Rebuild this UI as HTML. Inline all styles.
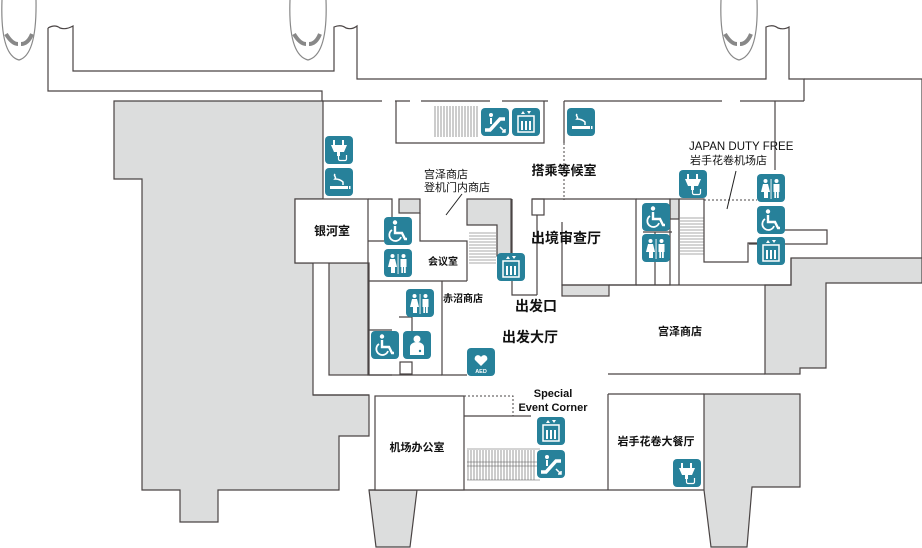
<!DOCTYPE html>
<html><head><meta charset="utf-8"><style>
html,body{margin:0;padding:0;background:#fff}
svg{display:block}
text{font-family:"Liberation Sans","Noto Sans CJK SC",sans-serif;fill:#111}
.b{font-weight:bold}
</style></head><body>
<svg width="922" height="548" viewBox="0 0 922 548" xmlns="http://www.w3.org/2000/svg">
<defs>
<g id="wc"><rect width="28" height="28" rx="4" fill="#27819a"/><circle cx="11" cy="5.5" r="2.2" fill="#fff"/><path d="M11 9v7h7l3 6h2" stroke="#fff" stroke-width="2.4" fill="none"/><path d="M8 13a6 6 0 1 0 9 7" stroke="#fff" stroke-width="1.8" fill="none"/></g>
<g id="toi"><rect width="28" height="28" rx="4" fill="#27819a"/><g fill="#fff"><circle cx="8.5" cy="7" r="2"/><path d="M6 10h5l2 8h-2v6h-4v-6h-3z"/><rect x="13.6" y="5" width="0.9" height="20"/><circle cx="19.5" cy="7" r="2"/><rect x="16.5" y="10" width="6" height="8"/><rect x="17.3" y="17" width="1.8" height="7"/><rect x="20" y="17" width="1.8" height="7"/></g></g>
<g id="ele"><rect width="28" height="28" rx="4" fill="#27819a"/><g fill="#fff"><rect x="6" y="8" width="16" height="16" fill="none" stroke="#fff" stroke-width="1.5"/><rect x="9" y="13" width="2" height="9"/><rect x="13" y="13" width="2" height="9"/><rect x="17" y="13" width="2" height="9"/><path d="M9 6l2-3 2 3zM15 3l2 3 2-3z"/></g></g>
<g id="esc"><rect width="28" height="28" rx="4" fill="#27819a"/><path d="M4 22h5l10-11h5" fill="none" stroke="#fff" stroke-width="3.5"/><circle cx="10" cy="7" r="2" fill="#fff"/><path d="M10 10v6" stroke="#fff" stroke-width="2"/><path d="M19 19l5 5M21 24h3v-3" stroke="#fff" stroke-width="1.5" fill="none"/></g>
<g id="plug"><rect width="28" height="28" rx="4" fill="#27819a"/><g fill="#fff"><rect x="8" y="4" width="2" height="5"/><rect x="17" y="4" width="2" height="5"/><path d="M6 9h16l-3 7h-10z"/><rect x="12" y="16" width="3" height="4"/></g><path d="M13.5 20v3a1.5 1.5 0 0 0 1.5 1.5h5a1.5 1.5 0 0 0 1.5-1.5v-4" stroke="#fff" stroke-width="1.2" fill="none"/></g>
<g id="smk"><rect width="28" height="28" rx="4" fill="#27819a"/><rect x="5" y="18" width="18" height="3" fill="#fff"/><rect x="24" y="18" width="1.5" height="3" fill="#fff"/><path d="M10 6c-2 2 2 3 0 5 3 0 6 1 8 3v3" stroke="#fff" stroke-width="1.5" fill="none"/></g>
<g id="nur"><rect width="28" height="28" rx="4" fill="#27819a"/><circle cx="14" cy="8" r="3.5" fill="#fff"/><path d="M7 24v-8a7 5 0 0 1 14 0v8z" fill="#fff"/><circle cx="17" cy="20" r="1.2" fill="#27819a"/></g>
<g id="aed"><rect width="28" height="28" rx="4" fill="#27819a"/><path d="M14 18l-6-6a3.2 3.2 0 0 1 6-3 3.2 3.2 0 0 1 6 3z" fill="#fff"/><text x="14" y="25" font-size="5.5" text-anchor="middle" style="fill:#fff;font-weight:bold">AED</text></g>
</defs>

<g fill="none" stroke="#888" stroke-width="1.2">
<path d="M2 0 Q0 55 19 60 Q37 55 36 0"/>
<path d="M290 0 Q288 55 308 60 Q328 55 326 0"/>
<path d="M721 0 Q719 55 739 60 Q759 55 757 0"/>
</g>
<g stroke="#888" stroke-width="4" fill="none">
<path d="M6 34 Q12 44 18 44 M21 44 Q28 44 32 34"/>
<path d="M294 34 Q300 44 306 44 M309 44 Q316 44 320 34"/>
<path d="M725 34 Q731 44 737 44 M740 44 Q747 44 751 34"/>
</g>

<g fill="#dcdddd" stroke="#4a4444" stroke-width="1.2">
<path d="M114 101H323V199H295V263H313V395H369V436H339V490H218V522H180V490H142V179H114Z"/>
<rect x="329" y="263" width="40" height="112"/>
<path d="M791 258H922V283H826V368H800V374H765V285H791Z"/>
<path d="M704 394H800V487H752L747 547H711L704 490Z"/>
<path d="M369 490L376 547H410L417 490Z"/>
<rect x="399" y="199" width="21" height="14"/>
<path d="M467 199H511V256H497V225H467Z"/>
<rect x="562" y="285" width="47" height="11"/>
<rect x="670" y="199" width="9" height="20"/>
</g>

<g fill="none" stroke="#4a4444" stroke-width="1.2">
<path d="M48 28Q55 24 60 28Q66 30 73 26V71H334V27Q341 24 346 28Q352 30 357 26V79H766V27Q773 24 778 28Q784 30 789 27V79H804V101"/>
<path d="M48 28V91H322V101"/>
<path d="M804 79H922V258"/>
<path d="M322 101H382M395 101H410M421 101H490M502 101H548M564 101H722M740 101H804"/>
<path d="M396 101V143H544V101M564 101V143"/>
<path d="M775 101V170"/>
<rect x="295" y="199" width="73" height="64" fill="#fff"/>
<path d="M368 199H392V217M368 241H384M368 281H467M368 263V375H392M420 213V241H467V281M442 281V375H467"/>
<path d="M399 317H412V335M368 330H392M369 375H442"/>
<rect x="400" y="362" width="12" height="12"/>
<path d="M512 199V295H537M532 199H636V285H562V222M537 215V295"/>
<rect x="532" y="199" width="12" height="16"/>
<path d="M636 199H670V285H609M655 232V285M679 199V285M679 199H704V262H748V243H757M643 232H672"/>
<path d="M636 285H791V258"/>
<path d="M749 244H827V230H764"/>
<path d="M608 374H765M608 394H704M608 394V490"/>
<path d="M313 395H369M369 490H704"/>
<rect x="375" y="396" width="89" height="94" fill="#fff"/>
<path d="M464 416H531"/>
</g>
<g fill="none" stroke="#4a4444" stroke-width="1" stroke-dasharray="2,2">
<path d="M464 396H513V416"/>
<path d="M564 143V200"/>
<path d="M704 200H757"/>
</g>
<path d="M446 215L462 194M727 209L736 171" stroke="#222" stroke-width="1"/>

<g stroke="#555" stroke-width="0.6">
<path d="M435 106V137M438 106V137M441 106V137M444 106V137M447 106V137M450 106V137M453 106V137M456 106V137M459 106V137M462 106V137M465 106V137M468 106V137M471 106V137M474 106V137M477 106V137"/>
<path d="M469 233H496M469 236H496M469 239H496M469 242H496M469 245H496M469 248H496M469 251H496M469 254H496M469 257H496M469 260H496M469 263H496"/>
<path d="M680 218H704M680 221H704M680 224H704M680 227H704M680 230H704M680 233H704M680 236H704M680 239H704M680 242H704M680 245H704M680 248H704M680 251H704M680 254H704"/>
<path d="M468 450V480M471 450V480M474 450V480M477 450V480M480 450V480M483 450V480M486 450V480M489 450V480M492 450V480M495 450V480M498 450V480M501 450V480M504 450V480M507 450V480M510 450V480M513 450V480M516 450V480M519 450V480M522 450V480M525 450V480M528 450V480M531 450V480M534 450V480"/>
<path d="M467 449H540M467 462H540M467 466H540M467 480H540"/>
</g>

<use href="#esc" x="481" y="108"/><use href="#ele" x="512" y="108"/><use href="#smk" x="567" y="108"/>
<use href="#plug" x="325" y="136"/><use href="#smk" x="325" y="168"/>
<use href="#wc" x="384" y="217"/><use href="#toi" x="384" y="249"/>
<use href="#toi" x="406" y="289"/>
<use href="#wc" x="371" y="331"/><use href="#nur" x="403" y="331"/>
<use href="#aed" x="467" y="348"/>
<use href="#ele" x="497" y="253"/>
<use href="#plug" x="679" y="170"/>
<use href="#wc" x="642" y="203"/><use href="#toi" x="642" y="234"/>
<use href="#toi" x="757" y="174"/><use href="#wc" x="757" y="206"/><use href="#ele" x="757" y="237"/>
<use href="#ele" x="537" y="417"/><use href="#esc" x="537" y="450"/>
<use href="#plug" x="673" y="459"/>

<text x="332" y="235" font-size="12" class="b" text-anchor="middle">银河室</text>
<text x="424" y="178" font-size="11">宫泽商店</text>
<text x="424" y="191" font-size="11">登机门内商店</text>
<text x="564" y="175" font-size="13" class="b" text-anchor="middle">搭乘等候室</text>
<text x="689" y="150" font-size="11.5">JAPAN DUTY FREE</text>
<text x="690" y="164" font-size="11">岩手花卷机场店</text>
<text x="566" y="243" font-size="14" class="b" text-anchor="middle">出境审查厅</text>
<text x="443" y="265" font-size="10" class="b" text-anchor="middle">会议室</text>
<text x="443" y="302" font-size="10" class="b">赤沼商店</text>
<text x="536" y="311" font-size="14" class="b" text-anchor="middle">出发口</text>
<text x="530" y="342" font-size="14" class="b" text-anchor="middle">出发大厅</text>
<text x="680" y="335" font-size="11" class="b" text-anchor="middle">宫泽商店</text>
<text x="553" y="397" font-size="11" class="b" text-anchor="middle">Special</text>
<text x="553" y="411" font-size="11" class="b" text-anchor="middle">Event Corner</text>
<text x="417" y="451" font-size="11" class="b" text-anchor="middle">机场办公室</text>
<text x="656" y="445" font-size="11" class="b" text-anchor="middle">岩手花卷大餐厅</text>
</svg>
</body></html>
